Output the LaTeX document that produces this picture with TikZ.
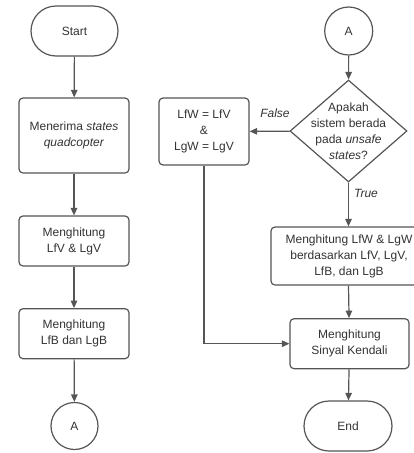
\documentclass[tikz,border=0pt]{standalone}
\usepackage{fontspec}
\setmainfont{Liberation Sans}
\usetikzlibrary{shapes.geometric,shapes.misc,arrows.meta}
\definecolor{ln}{HTML}{555555}
\definecolor{tx}{HTML}{333333}
\tikzset{
  base/.style={draw=ln, line width=1.2pt, text=tx, font=\fontsize{12}{16}\selectfont, align=center, inner sep=0pt},
  procbox/.style={base, rectangle, rounded corners=4pt},
  term/.style={base, rounded rectangle},
  conn/.style={base, circle},
  arr/.style={draw=ln, line width=1.2pt, -{Triangle[width=6.5pt,length=7.5pt]}},
  lbl/.style={text=tx, font=\fontsize{12}{16}\selectfont\itshape, inner sep=0pt}
}
\begin{document}
\begin{tikzpicture}[x=1pt,y=-1pt]
\useasboundingbox (0,0) rectangle (414,453);
\node[term, minimum width=87pt, minimum height=50pt] (start) at (74.5,31) {Start};
\node[procbox, minimum width=110pt, minimum height=75pt] (recv) at (74,135.5) {Menerima \textit{states}\\\textit{quadcopter}};
\node[procbox, minimum width=110pt, minimum height=50pt] (lfv) at (74,241) {Menghitung\\LfV \& LgV};
\node[procbox, minimum width=110pt, minimum height=50pt] (lfb) at (74,333.7) {Menghitung\\LfB dan LgB};
\node[conn, minimum size=47pt] (a1) at (74.5,426) {A};

\node[conn, minimum size=48pt] (a2) at (348.7,31) {A};
\node[base, diamond, minimum width=117pt, minimum height=102pt] (dec) at (348.5,131) {};
\node[text=tx, font=\fontsize{12}{16}\selectfont, align=center] (dectext) at (dec.center) {Apakah\\sistem berada\\pada \textit{unsafe}\\\textit{states}?};
\node[procbox, minimum width=90pt, minimum height=67pt] (eq) at (204,131.5) {LfW = LfV\\\&\\LgW = LgV};
\node[procbox, minimum width=156pt, minimum height=58pt] (lfw) at (349,256) {Menghitung LfW \& LgW\\berdasarkan LfV, LgV,\\LfB, dan LgB};
\node[procbox, minimum width=119pt, minimum height=50pt] (sig) at (349.5,343.7) {Menghitung\\Sinyal Kendali};
\node[term, minimum width=88pt, minimum height=50pt] (end) at (348,426) {End};
\node[lbl] (flbl) at (275,113) {False};
\node[lbl] (tlbl) at (366,193) {True};

\draw[arr] (start) -- (recv);
\draw[arr] (recv) -- (lfv);
\draw[arr] (lfv) -- (lfb);
\draw[arr] (lfb) -- (a1);
\draw[arr] (a2) -- (dec);
\draw[arr] (dec) -- (eq);
\draw[arr] (dec.south) -- (dec.south |- lfw.north);
\draw[arr] (dec.south |- lfw.south) -- (sig);
\draw[arr] (eq.south) |- (sig.west);
\draw[arr] (sig) -- (end);
\end{tikzpicture}
\end{document}
